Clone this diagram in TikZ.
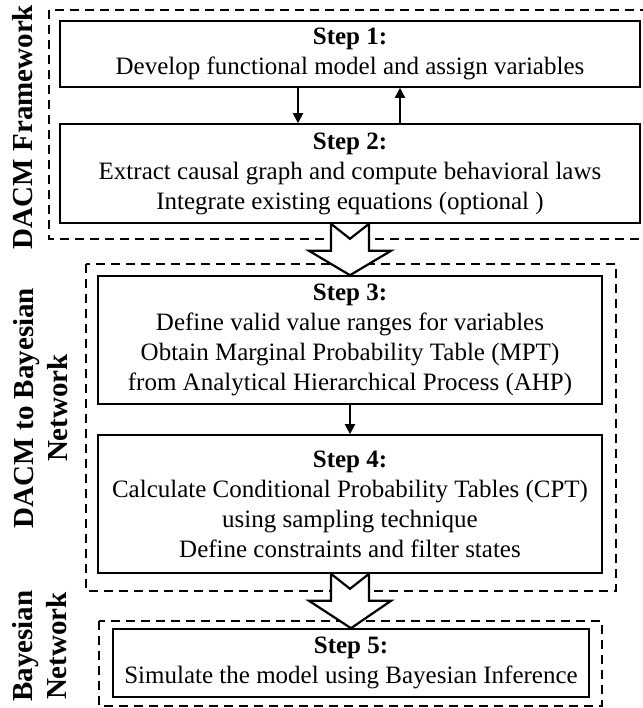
\documentclass[tikz,border=0pt]{standalone}
\usepackage{fontspec}
\setmainfont{Liberation Serif}
\usetikzlibrary{calc,arrows.meta}
\tikzset{
	stepbox/.style={draw, line width=1.6pt, align=center, inner sep=0pt, font=\fontsize{25}{30}\selectfont},
	groupbox/.style={line width=2pt, dash pattern=on 9pt off 6pt},
	flow/.style={line width=2pt, -{Triangle[length=10pt,width=10pt]}},
	bigarrow/.style={draw, fill=white, line width=2.2pt, line join=miter},
	sidelabel/.style={rotate=90, align=center, font=\fontsize{29}{34}\selectfont\bfseries}
}
\def\blockarrow(#1)(#2){\draw[bigarrow] ($(#1.south)+(-19,0)$) -- ($(#1.south)+(0,15)$) -- ($(#1.south)+(19,0)$) -- ($(#1.south)+(19,27)$) -- ($(#1.south)+(41,27)$) -- (#2.north) -- ($(#1.south)+(-41,27)$) -- ($(#1.south)+(-19,27)$) -- cycle;}

\begin{document}
\begin{tikzpicture}[x=1pt,y=-1pt]
	%%%%% START %%%%%
	\useasboundingbox (0,0) rectangle (642,708);
	
	\draw[groupbox] (49,10) rectangle (660,239);
	\draw[groupbox] (86,264) rectangle (616,591);
	\draw[groupbox] (99,621) rectangle (602,706);
	
	\node[sidelabel] (lab1) at (23,127) {DACM Framework};
	\node[sidelabel] (lab2) at (41,408) {DACM to Bayesian\\Network};
	\node[sidelabel] (lab3) at (40,646) {Bayesian\\Network};
	
	\node[stepbox, minimum width=580pt, minimum height=66pt] (s1) at (350,54) {\textbf{Step 1:}\\Develop functional model and assign variables};
	\node[stepbox, minimum width=580pt, minimum height=99pt] (s2) at (350,173.5) {\textbf{Step 2:}\\Extract causal graph and compute behavioral laws\\Integrate existing equations (optional )};
	\node[stepbox, minimum width=504pt, minimum height=128pt] (s3) at (350,340) {\textbf{Step 3:}\\Define valid value ranges for variables\\Obtain Marginal Probability Table (MPT)\\from Analytical Hierarchical Process (AHP)};
	\node[stepbox, minimum width=504pt, minimum height=138pt] (s4) at (350,504) {\textbf{Step 4:}\\Calculate Conditional Probability Tables (CPT)\\using sampling technique\\Define constraints and filter states};
	\node[stepbox, minimum width=476pt, minimum height=68pt] (s5) at (351,663) {\textbf{Step 5:}\\Simulate the model using Bayesian Inference};
	
	\draw[flow] ([xshift=-52pt]s1.south) -- ([xshift=-52pt]s2.north);
	\draw[flow] ([xshift=50pt]s2.north) -- ([xshift=50pt]s1.south);
	\draw[flow] (s3) -- (s4);
	
	\blockarrow(s2)(s3)
	\blockarrow(s4)(s5)
	%%%%% END %%%%%
\end{tikzpicture}
\end{document}
